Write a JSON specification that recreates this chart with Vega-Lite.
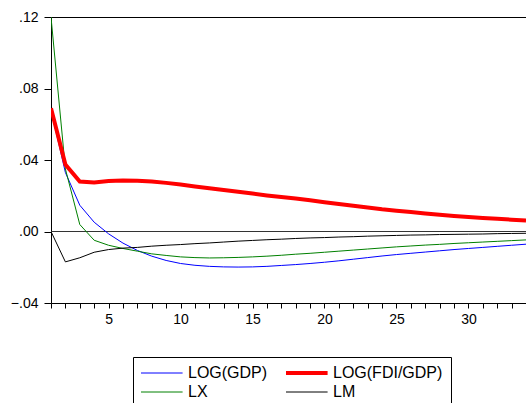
{
  "$schema": "https://vega.github.io/schema/vega-lite/v6.json",
  "width": 475,
  "height": 286,
  "autosize": {"type": "none"},
  "padding": {"left": 51, "top": 17, "right": 0, "bottom": 100},
  "background": "white",
  "config": {
    "font": "Liberation Sans",
    "view": {"stroke": "black", "strokeWidth": 1},
    "axis": {"grid": false, "domain": false, "labelColor": "black", "tickColor": "black", "labelFontSize": 14, "labelFont": "Liberation Sans", "title": null}
  },
  "datasets": {
    "irf": [
      {"t":1,"s":"LOG(GDP)","v":0.068},{"t":1,"s":"LOG(FDI/GDP)","v":0.069},{"t":1,"s":"LX","v":0.120},{"t":1,"s":"LM","v":0.000},
      {"t":2,"s":"LOG(GDP)","v":0.033},{"t":2,"s":"LOG(FDI/GDP)","v":0.0375},{"t":2,"s":"LX","v":0.035},{"t":2,"s":"LM","v":-0.017},
      {"t":3,"s":"LOG(GDP)","v":0.0147},{"t":3,"s":"LOG(FDI/GDP)","v":0.028},{"t":3,"s":"LX","v":0.0039},{"t":3,"s":"LM","v":-0.0147},
      {"t":4,"s":"LOG(GDP)","v":0.0052},{"t":4,"s":"LOG(FDI/GDP)","v":0.0274},{"t":4,"s":"LX","v":-0.0049},{"t":4,"s":"LM","v":-0.0116},
      {"t":5,"s":"LOG(GDP)","v":-0.0013},{"t":5,"s":"LOG(FDI/GDP)","v":0.0282},{"t":5,"s":"LX","v":-0.0077},{"t":5,"s":"LM","v":-0.0101},
      {"t":6,"s":"LOG(GDP)","v":-0.0065},{"t":6,"s":"LOG(FDI/GDP)","v":0.0285},{"t":6,"s":"LX","v":-0.0095},{"t":6,"s":"LM","v":-0.0093},
      {"t":7,"s":"LOG(GDP)","v":-0.0106},{"t":7,"s":"LOG(FDI/GDP)","v":0.0284},{"t":7,"s":"LX","v":-0.011},{"t":7,"s":"LM","v":-0.0089},
      {"t":8,"s":"LOG(GDP)","v":-0.0138},{"t":8,"s":"LOG(FDI/GDP)","v":0.028},{"t":8,"s":"LX","v":-0.0125},{"t":8,"s":"LM","v":-0.0082},
      {"t":9,"s":"LOG(GDP)","v":-0.0162},{"t":9,"s":"LOG(FDI/GDP)","v":0.0272},{"t":9,"s":"LX","v":-0.0134},{"t":9,"s":"LM","v":-0.0077},
      {"t":10,"s":"LOG(GDP)","v":-0.0179},{"t":10,"s":"LOG(FDI/GDP)","v":0.0263},{"t":10,"s":"LX","v":-0.0142},{"t":10,"s":"LM","v":-0.0073},
      {"t":11,"s":"LOG(GDP)","v":-0.0189},{"t":11,"s":"LOG(FDI/GDP)","v":0.0252},{"t":11,"s":"LX","v":-0.0146},{"t":11,"s":"LM","v":-0.0068},
      {"t":12,"s":"LOG(GDP)","v":-0.0195},{"t":12,"s":"LOG(FDI/GDP)","v":0.0242},{"t":12,"s":"LX","v":-0.0148},{"t":12,"s":"LM","v":-0.0064},
      {"t":13,"s":"LOG(GDP)","v":-0.0198},{"t":13,"s":"LOG(FDI/GDP)","v":0.0232},{"t":13,"s":"LX","v":-0.0147},{"t":13,"s":"LM","v":-0.0059},
      {"t":14,"s":"LOG(GDP)","v":-0.0199},{"t":14,"s":"LOG(FDI/GDP)","v":0.0222},{"t":14,"s":"LX","v":-0.0145},{"t":14,"s":"LM","v":-0.0054},
      {"t":15,"s":"LOG(GDP)","v":-0.0198},{"t":15,"s":"LOG(FDI/GDP)","v":0.0212},{"t":15,"s":"LX","v":-0.0142},{"t":15,"s":"LM","v":-0.0050},
      {"t":16,"s":"LOG(GDP)","v":-0.0195},{"t":16,"s":"LOG(FDI/GDP)","v":0.0202},{"t":16,"s":"LX","v":-0.0138},{"t":16,"s":"LM","v":-0.0046},
      {"t":17,"s":"LOG(GDP)","v":-0.0190},{"t":17,"s":"LOG(FDI/GDP)","v":0.0193},{"t":17,"s":"LX","v":-0.0133},{"t":17,"s":"LM","v":-0.0043},
      {"t":18,"s":"LOG(GDP)","v":-0.0185},{"t":18,"s":"LOG(FDI/GDP)","v":0.0184},{"t":18,"s":"LX","v":-0.0127},{"t":18,"s":"LM","v":-0.0039},
      {"t":19,"s":"LOG(GDP)","v":-0.0179},{"t":19,"s":"LOG(FDI/GDP)","v":0.0175},{"t":19,"s":"LX","v":-0.0122},{"t":19,"s":"LM","v":-0.0036},
      {"t":20,"s":"LOG(GDP)","v":-0.0172},{"t":20,"s":"LOG(FDI/GDP)","v":0.0164},{"t":20,"s":"LX","v":-0.0116},{"t":20,"s":"LM","v":-0.0034},
      {"t":21,"s":"LOG(GDP)","v":-0.0164},{"t":21,"s":"LOG(FDI/GDP)","v":0.0154},{"t":21,"s":"LX","v":-0.0110},{"t":21,"s":"LM","v":-0.0031},
      {"t":22,"s":"LOG(GDP)","v":-0.0155},{"t":22,"s":"LOG(FDI/GDP)","v":0.0144},{"t":22,"s":"LX","v":-0.0104},{"t":22,"s":"LM","v":-0.0029},
      {"t":23,"s":"LOG(GDP)","v":-0.0146},{"t":23,"s":"LOG(FDI/GDP)","v":0.0134},{"t":23,"s":"LX","v":-0.0098},{"t":23,"s":"LM","v":-0.0026},
      {"t":24,"s":"LOG(GDP)","v":-0.0137},{"t":24,"s":"LOG(FDI/GDP)","v":0.0124},{"t":24,"s":"LX","v":-0.0092},{"t":24,"s":"LM","v":-0.0024},
      {"t":25,"s":"LOG(GDP)","v":-0.0129},{"t":25,"s":"LOG(FDI/GDP)","v":0.0116},{"t":25,"s":"LX","v":-0.0086},{"t":25,"s":"LM","v":-0.0022},
      {"t":26,"s":"LOG(GDP)","v":-0.0122},{"t":26,"s":"LOG(FDI/GDP)","v":0.0109},{"t":26,"s":"LX","v":-0.0081},{"t":26,"s":"LM","v":-0.0020},
      {"t":27,"s":"LOG(GDP)","v":-0.0115},{"t":27,"s":"LOG(FDI/GDP)","v":0.0101},{"t":27,"s":"LX","v":-0.0076},{"t":27,"s":"LM","v":-0.0019},
      {"t":28,"s":"LOG(GDP)","v":-0.0108},{"t":28,"s":"LOG(FDI/GDP)","v":0.0094},{"t":28,"s":"LX","v":-0.0072},{"t":28,"s":"LM","v":-0.0017},
      {"t":29,"s":"LOG(GDP)","v":-0.0101},{"t":29,"s":"LOG(FDI/GDP)","v":0.0087},{"t":29,"s":"LX","v":-0.0067},{"t":29,"s":"LM","v":-0.0016},
      {"t":30,"s":"LOG(GDP)","v":-0.0095},{"t":30,"s":"LOG(FDI/GDP)","v":0.0081},{"t":30,"s":"LX","v":-0.0063},{"t":30,"s":"LM","v":-0.0015},
      {"t":31,"s":"LOG(GDP)","v":-0.0089},{"t":31,"s":"LOG(FDI/GDP)","v":0.0076},{"t":31,"s":"LX","v":-0.0059},{"t":31,"s":"LM","v":-0.0014},
      {"t":32,"s":"LOG(GDP)","v":-0.0083},{"t":32,"s":"LOG(FDI/GDP)","v":0.0071},{"t":32,"s":"LX","v":-0.0055},{"t":32,"s":"LM","v":-0.0012},
      {"t":33,"s":"LOG(GDP)","v":-0.0077},{"t":33,"s":"LOG(FDI/GDP)","v":0.0066},{"t":33,"s":"LX","v":-0.0051},{"t":33,"s":"LM","v":-0.0011},
      {"t":34,"s":"LOG(GDP)","v":-0.0071},{"t":34,"s":"LOG(FDI/GDP)","v":0.0062},{"t":34,"s":"LX","v":-0.0047},{"t":34,"s":"LM","v":-0.0010}
    ],
    "zero": [{"z": 0}]
  },
  "encoding": {
    "x": {
      "field": "t", "type": "quantitative",
      "scale": {"domain": [1, 34], "nice": false, "zero": false},
      "axis": {"values": [1,2,3,4,5,6,7,8,9,10,11,12,13,14,15,16,17,18,19,20,21,22,23,24,25,26,27,28,29,30,31,32,33,34], "labelExpr": "datum.value % 5 === 0 ? datum.label : ''", "tickSize": 5, "labelPadding": 4, "labelFlush": false, "labelOverlap": false}
    },
    "y": {
      "field": "v", "type": "quantitative",
      "scale": {"domain": [-0.04, 0.12], "nice": false, "zero": false},
      "axis": {"values": [-0.04, 0, 0.04, 0.08, 0.12], "labelExpr": "replace(format(datum.value, '.2f'), '0.', '.')", "tickSize": 7, "labelPadding": 6}
    },
    "color": {
      "field": "s", "type": "nominal",
      "scale": {"domain": ["LOG(GDP)", "LOG(FDI/GDP)", "LX", "LM"], "range": ["#0000ff", "#ff0000", "#008000", "#000000"]},
      "legend": {
        "title": null, "orient": "none", "legendX": 82, "legendY": 340, "columns": 2, "direction": "horizontal",
        "symbolType": "M-1,0H4.2", "symbolSize": 256, "labelFontSize": 16, "labelFont": "Liberation Sans", "labelColor": "black",
        "strokeColor": "black", "padding": 8, "rowPadding": 3, "columnPadding": 10, "labelOffset": 31,
        "encode": {"symbols": {"update": {"strokeWidth": {"signal": "datum.label === 'LOG(FDI/GDP)' ? 4 : 1"}, "fill": {"value": "transparent"}}}}
      }
    }
  },
  "layer": [
    {
      "data": {"name": "zero"},
      "mark": {"type": "rule", "color": "#333333", "strokeWidth": 1},
      "encoding": {
        "x": null,
        "color": null,
        "y": {"field": "z", "type": "quantitative"}
      }
    },
    {
      "data": {"name": "irf"},
      "transform": [{"filter": "datum.s !== 'LOG(FDI/GDP)'"}],
      "mark": {"type": "line", "clip": true, "strokeWidth": 1}
    },
    {
      "data": {"name": "irf"},
      "transform": [{"filter": "datum.s === 'LOG(FDI/GDP)'"}],
      "mark": {"type": "line", "clip": true, "strokeWidth": 4}
    }
  ]
}
